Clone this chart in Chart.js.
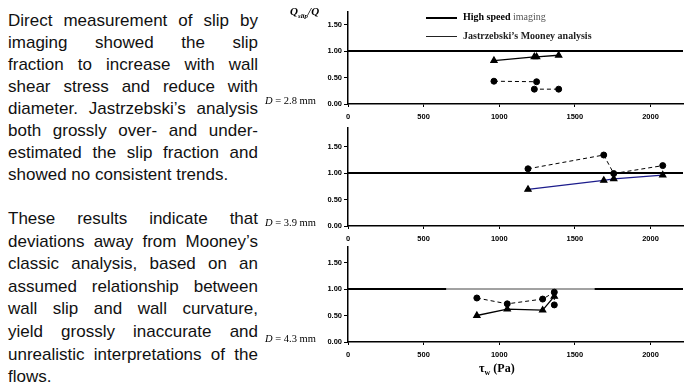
<!DOCTYPE html>
<html>
<head>
<meta charset="utf-8">
<script src="https://cdn.jsdelivr.net/npm/chart.js@4.4.0/dist/chart.umd.min.js"></script>
<style>
  html,body{margin:0;padding:0;background:#fff;}
  body{width:693px;height:383px;position:relative;overflow:hidden;}
  canvas{position:absolute;}
  .para{position:absolute;left:8px;width:250px;font-family:"Liberation Sans",Arial,sans-serif;font-size:17px;color:#111;}
  .ln{height:22px;line-height:22px;text-align:justify;text-align-last:justify;white-space:normal;}
  #p2 .ln{height:22.6px;line-height:22.6px;}
  .ln.last{text-align:left;text-align-last:left;}
  .lab{position:absolute;font-family:"Liberation Serif","Times New Roman",serif;color:#000;white-space:nowrap;}
</style>
</head>
<body>
<div class="para" id="p1" style="top:10px"></div>
<div class="para" id="p2" style="top:208px"></div>

<canvas id="c1" width="393" height="124" style="left:300px;top:0px"></canvas>
<canvas id="c2" width="393" height="126" style="left:300px;top:120px"></canvas>
<canvas id="c3" width="393" height="122" style="left:300px;top:240px"></canvas>

<div class="lab" style="left:290px;top:5px;font-size:11px;font-weight:bold;font-style:italic;">Q<sub style="font-size:7px">slip</sub>/Q</div>
<div class="lab" id="d1" style="left:265px;top:95px;font-size:10.5px;"></div>
<div class="lab" id="d2" style="left:265px;top:217px;font-size:10.5px;"></div>
<div class="lab" id="d3" style="left:265px;top:333px;font-size:10.5px;"></div>

<div style="position:absolute;left:426px;top:17px;width:31px;height:2px;background:#000"></div>
<div class="lab" style="left:463px;top:11px;font-size:10px;"><b>High speed</b><span style="color:#555"> imaging</span></div>
<div style="position:absolute;left:426px;top:36px;width:31px;height:1px;background:#222"></div>
<div class="lab" style="left:463px;top:30px;font-size:10px;font-weight:bold;color:#222">Jastrzebski’s Mooney analysis</div>

<div class="lab" style="left:479px;top:361px;font-size:12px;font-weight:bold;">τ<sub style="font-size:8px">w</sub> (Pa)</div>

<script>
// ---- text ----
const para1 = ["Direct measurement of slip by","imaging showed the slip","fraction to increase with wall","shear stress and reduce with","diameter. Jastrzebski’s analysis","both grossly over- and under-","estimated the slip fraction and","showed no consistent trends."];
const para2 = ["These results indicate that","deviations away from Mooney’s","classic analysis, based on an","assumed relationship between","wall slip and wall curvature,","yield grossly inaccurate and","unrealistic interpretations of the","flows."];
const diameters = ["2.8","3.9","4.3"];

// ---- axes ----
const xTicks = [0,500,1000,1500,2000];
const yTicks = [0,0.5,1,1.5];
const xMax = 2215;
const yMaxes = [1.75,1.85,1.8];

// ---- data: panel 1 (D = 2.8 mm) ----
const p1ImgX = [965,1232,1247,1393];
const p1ImgY = [0.82,0.89,0.89,0.92];
const p1JasX = [965,1247,1232,1393];
const p1JasY = [0.43,0.42,0.28,0.28];
// ---- panel 2 (D = 3.9 mm) ----
const p2ImgX = [1190,1691,1757,2081];
const p2ImgY = [0.69,0.86,0.89,0.96];
const p2JasX = [1190,1691,1757,2081];
const p2JasY = [1.08,1.34,0.99,1.14];
// ---- panel 3 (D = 4.3 mm) ----
const p3ImgX = [852,1053,1287,1364];
const p3ImgY = [0.50,0.62,0.60,0.86];
const p3JasX = [852,1053,1287,1364,1364];
const p3JasY = [0.83,0.72,0.81,0.94,0.70];
// ---- reference line Qslip/Q = 1 ----
const refX = [0,2215];
const refY = [1,1];
const ref3X = [0,650,1630,2215];
const ref3Y = [1,1,1,1];

function fillPara(id, lines){
  const el = document.getElementById(id);
  lines.forEach((t,i)=>{
    const d = document.createElement('div');
    d.className = 'ln' + (i===lines.length-1 ? ' last' : '');
    d.textContent = t;
    el.appendChild(d);
  });
}
fillPara('p1', para1);
fillPara('p2', para2);
diameters.forEach((d,i)=>{
  document.getElementById('d'+(i+1)).innerHTML = '<i>D</i> = ' + d + ' mm';
});

const zip = (xs,ys)=>xs.map((x,i)=>({x:x,y:ys[i]}));
const tickFont = {family:'"Liberation Sans", Arial, sans-serif', size:7.5, weight:'bold'};

function makeChart(id, yMax, padTop, refXs, refYs, thinIdx, imgX, imgY, imgColor, jasX, jasY){
  const ds = [
    {data: zip(refXs, refYs), borderColor:'#000', borderWidth:2, pointRadius:0, showLine:true, order:3,
     segment:{borderWidth: ctx => (thinIdx>=0 && ctx.p0DataIndex===thinIdx) ? 1 : 2,
              borderColor: ctx => (thinIdx>=0 && ctx.p0DataIndex===thinIdx) ? '#444' : '#000'}},
    {data: zip(jasX, jasY), borderColor:'#000', borderWidth:1, borderDash:[4,3], showLine:true,
     pointStyle:'circle', pointRadius:3, backgroundColor:'#000', pointBorderColor:'#000', pointBackgroundColor:'#000', order:2},
    {data: zip(imgX, imgY), borderColor:imgColor, borderWidth:1.3, showLine:true,
     pointStyle:'triangle', pointRadius:3.5, pointBorderColor:'#000', pointBackgroundColor:'#000', order:1}
  ];
  return new Chart(document.getElementById(id), {
    type:'scatter',
    data:{datasets:ds},
    options:{
      responsive:false, animation:false, devicePixelRatio:1,
      layout:{padding:{left:0,right:10,top:padTop,bottom:0}},
      plugins:{legend:{display:false}, tooltip:{enabled:false}},
      elements:{line:{tension:0}},
      scales:{
        x:{type:'linear', min:0, max:xMax,
           afterBuildTicks: s => { s.ticks = xTicks.map(v=>({value:v})); },
           afterFit: s => { s.height = 20; },
           grid:{display:true, drawOnChartArea:false, drawTicks:true, tickLength:3, color:'#000', lineWidth:1},
           border:{display:true, color:'#000', width:1.5},
           ticks:{font:tickFont, color:'#000', padding:5, maxRotation:0, autoSkip:false, callback:v=>String(v)}},
        y:{type:'linear', min:0, max:yMax,
           afterBuildTicks: s => { s.ticks = yTicks.map(v=>({value:v})); },
           afterFit: s => { s.width = 48; },
           grid:{display:true, drawOnChartArea:false, drawTicks:true, tickLength:4, color:'#000', lineWidth:1},
           border:{display:true, color:'#000', width:1.5},
           ticks:{font:tickFont, color:'#000', padding:2, callback:v=>Number(v).toFixed(2)}}
      }
    }
  });
}

makeChart('c1', yMaxes[0], 11.25, refX, refY, -1, p1ImgX, p1ImgY, '#000', p1JasX, p1JasY);
makeChart('c2', yMaxes[1], 8, refX, refY, -1, p2ImgX, p2ImgY, '#1c1c8c', p2JasX, p2JasY);
makeChart('c3', yMaxes[2], 6.6, ref3X, ref3Y, 1, p3ImgX, p3ImgY, '#000', p3JasX, p3JasY);
</script>
</body>
</html>
